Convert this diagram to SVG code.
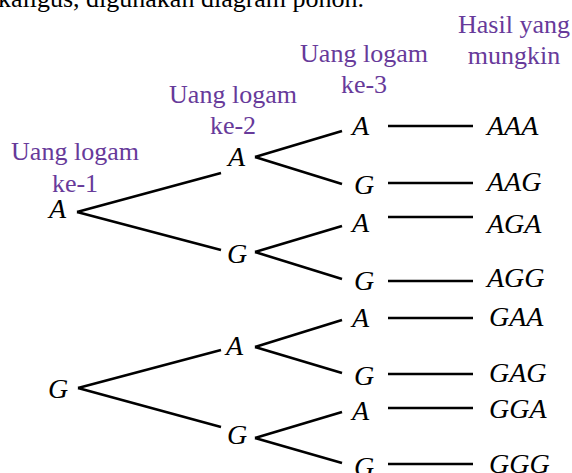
<svg xmlns="http://www.w3.org/2000/svg" width="572" height="473" viewBox="0 0 572 473">
<style>
.t{font-family:"Liberation Serif","Times New Roman",serif;font-size:26px;fill:#000}
.h{font-family:"Liberation Serif","Times New Roman",serif;font-size:26px;fill:#673a9a;text-anchor:middle}
.v{font-family:"Liberation Serif","Times New Roman",serif;font-size:28px;font-style:italic;fill:#000}
.e line{stroke:#000;stroke-width:2.6;stroke-linecap:butt}
</style>
<rect width="572" height="473" fill="#fff"/>
<text class="t" x="-2" y="7">kaligus, digunakan diagram pohon.</text>
<g id="headers">
<text class="h" x="75" y="160">Uang logam</text><text class="h" x="75" y="192">ke-1</text>
<text class="h" x="233" y="103">Uang logam</text><text class="h" x="233" y="134">ke-2</text>
<text class="h" x="364" y="62">Uang logam</text><text class="h" x="364" y="93">ke-3</text>
<text class="h" x="514" y="33">Hasil yang</text><text class="h" x="514" y="64">mungkin</text>
</g>
<g id="connectors" class="e">
<line x1="77" y1="212" x2="221" y2="173"/><line x1="77" y1="212" x2="221" y2="250"/>
<line x1="78" y1="388" x2="221" y2="350"/><line x1="78" y1="388" x2="221" y2="427"/>
<line x1="255" y1="157" x2="342" y2="131"/><line x1="255" y1="157" x2="342" y2="184"/>
<line x1="255" y1="252" x2="342" y2="226"/><line x1="255" y1="252" x2="342" y2="279"/>
<line x1="255" y1="347" x2="342" y2="320"/><line x1="255" y1="347" x2="342" y2="373"/>
<line x1="255" y1="438" x2="342" y2="412"/><line x1="255" y1="438" x2="342" y2="463"/>
<line x1="388" y1="126" x2="473" y2="126"/><line x1="388" y1="183" x2="473" y2="183"/>
<line x1="388" y1="217" x2="473" y2="217"/><line x1="388" y1="281" x2="473" y2="281"/>
<line x1="388" y1="318" x2="473" y2="318"/><line x1="388" y1="374" x2="473" y2="374"/>
<line x1="388" y1="408" x2="473" y2="408"/><line x1="388" y1="464" x2="473" y2="464"/>
</g>
<g id="l1-A"><text class="v" x="49" y="218">A</text></g>
<g id="l1-G"><text class="v" x="48" y="398">G</text></g>
<g id="l2-A1"><text class="v" x="228" y="166">A</text></g>
<g id="l2-G1"><text class="v" x="227" y="263">G</text></g>
<g id="l2-A2"><text class="v" x="226" y="355">A</text></g>
<g id="l2-G2"><text class="v" x="227" y="444">G</text></g>
<g id="l3-1"><text class="v" x="352" y="135">A</text></g>
<g id="l3-2"><text class="v" x="354" y="194">G</text></g>
<g id="l3-3"><text class="v" x="352" y="232">A</text></g>
<g id="l3-4"><text class="v" x="354" y="290">G</text></g>
<g id="l3-5"><text class="v" x="352" y="327">A</text></g>
<g id="l3-6"><text class="v" x="354" y="385">G</text></g>
<g id="l3-7"><text class="v" x="352" y="420">A</text></g>
<g id="l3-8"><text class="v" x="354" y="476">G</text></g>
<g id="r1"><text class="v" x="487" y="135">AAA</text></g>
<g id="r2"><text class="v" x="487" y="191">AAG</text></g>
<g id="r3"><text class="v" x="487" y="233">AGA</text></g>
<g id="r4"><text class="v" x="487" y="287">AGG</text></g>
<g id="r5"><text class="v" x="489" y="326">GAA</text></g>
<g id="r6"><text class="v" x="489" y="382">GAG</text></g>
<g id="r7"><text class="v" x="489" y="418">GGA</text></g>
<g id="r8"><text class="v" x="489" y="473">GGG</text></g>
</svg>
